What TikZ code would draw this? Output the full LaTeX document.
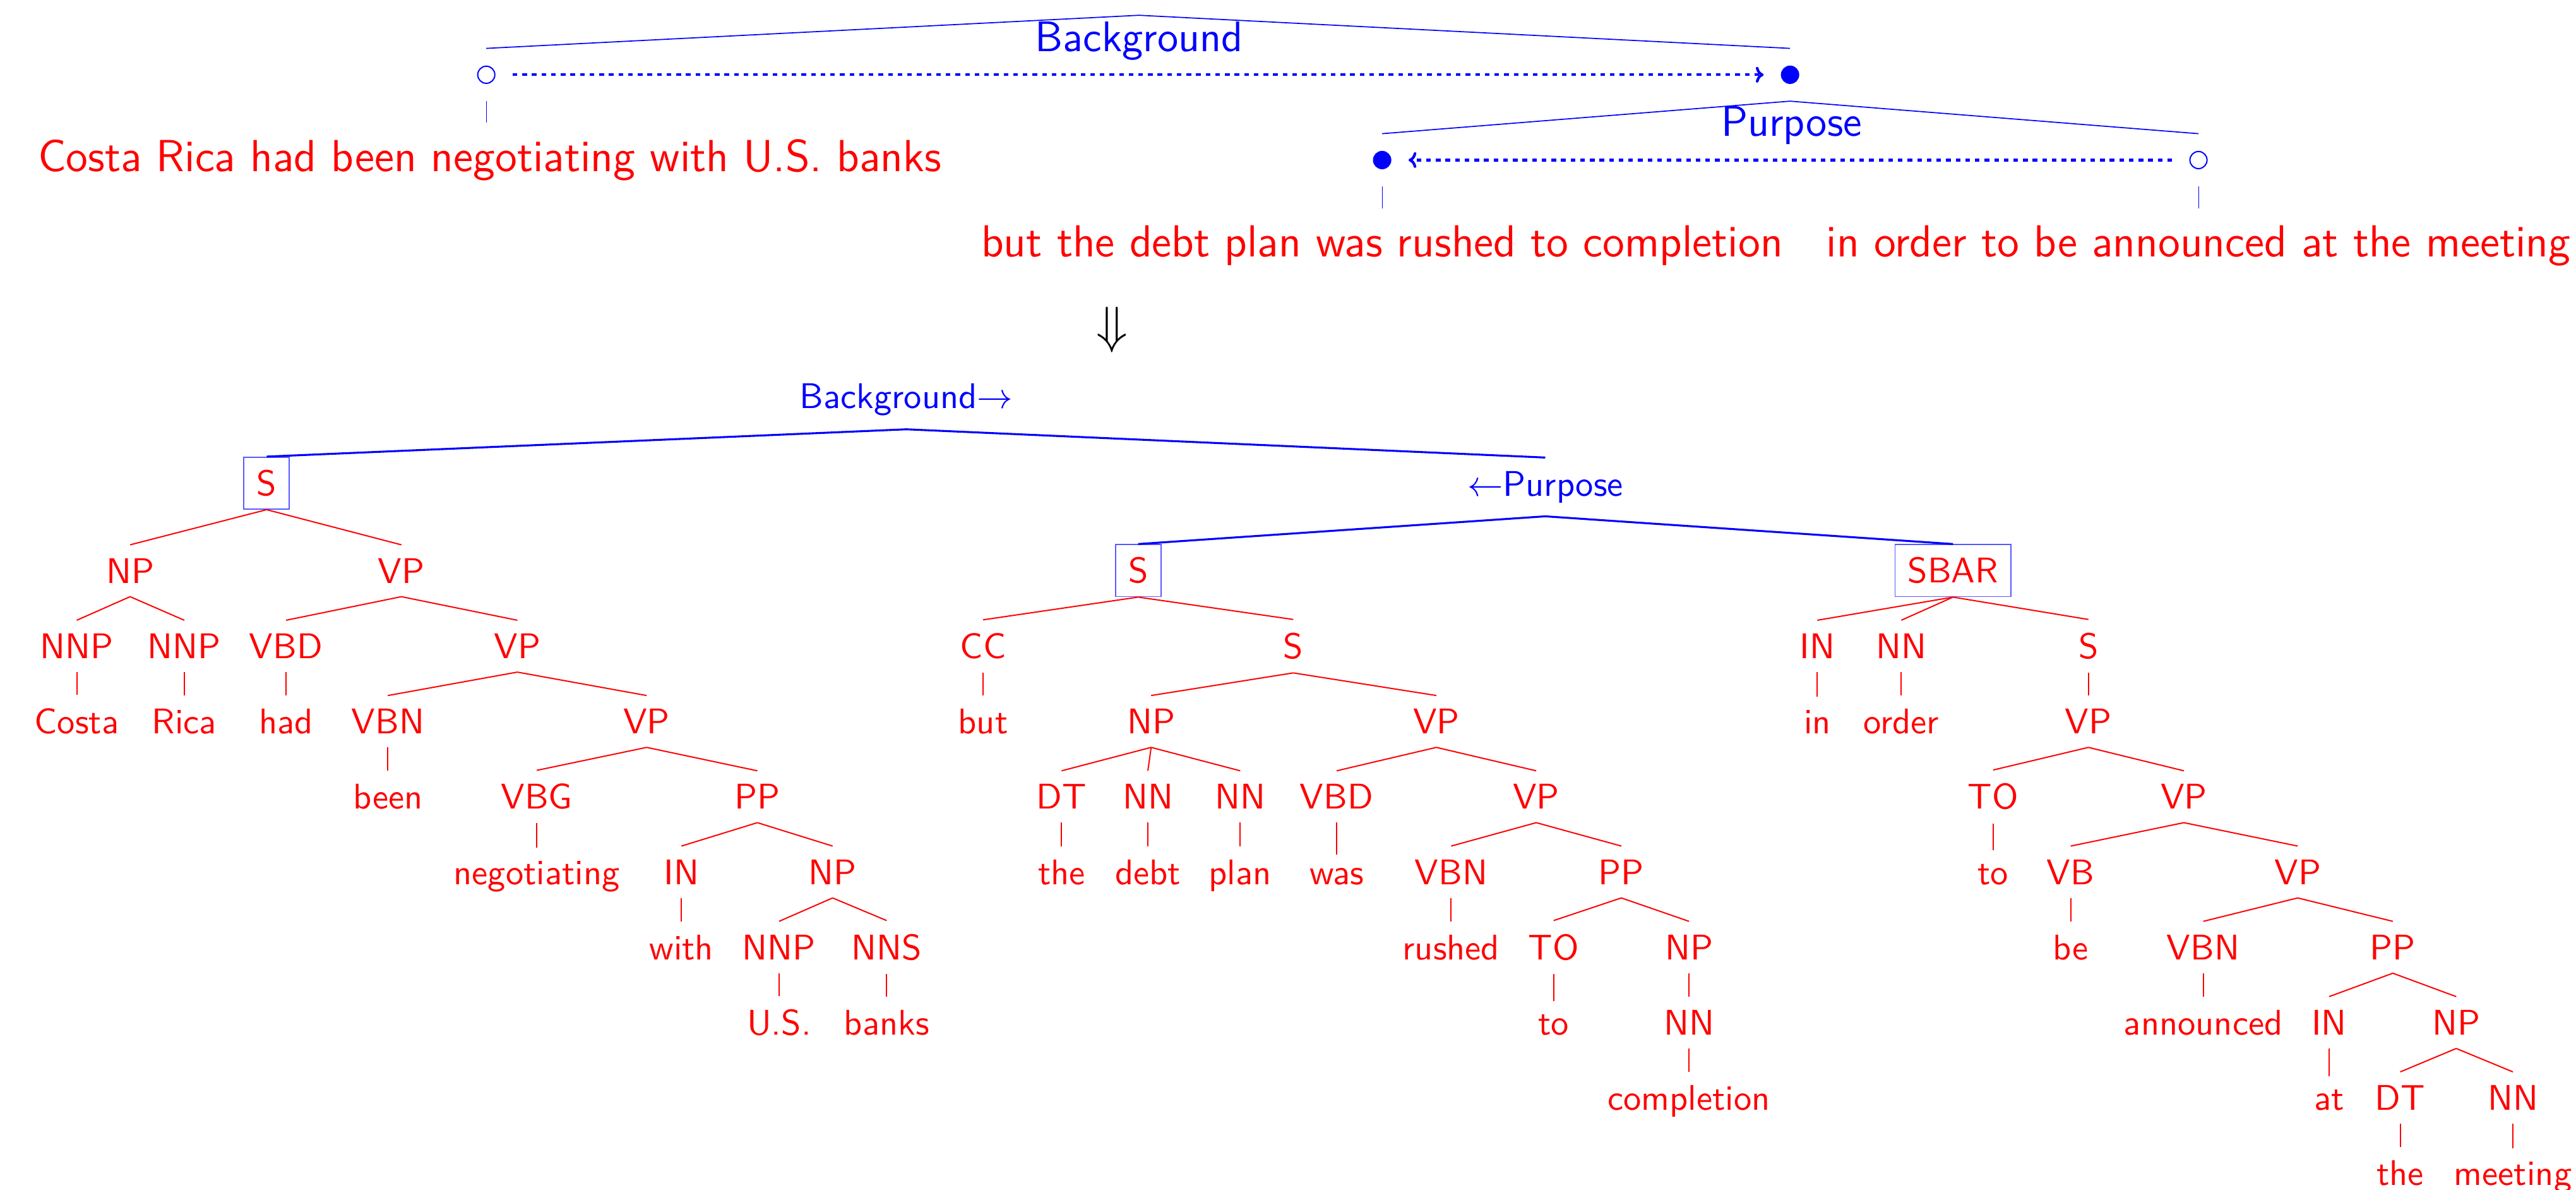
\documentclass[tikz,border=0pt]{standalone}
\usetikzlibrary{arrows.meta}
\tikzset{
  x=0.4608pt, y=-0.4608pt,
  tag/.style={anchor=base, text=red, font=\sffamily, inner sep=3.6pt},
  boxtag/.style={tag, draw=blue!65, line width=0.3pt},
  rel/.style={anchor=base, text=blue, font=\sffamily, inner sep=3.6pt},
  edge/.style={red, line width=0.35pt},
  reledge/.style={blue, line width=0.55pt},
  topdot/.style={circle, draw=blue, line width=0.35pt, minimum size=4.8pt, inner sep=0pt, outer sep=5pt},
  toplab/.style={anchor=base, text=blue, font=\sffamily\fontsize{12}{14}\selectfont, inner sep=0pt},
  toptext/.style={anchor=base, text=red, font=\sffamily\fontsize{12.6}{15}\selectfont, inner sep=4.6pt},
  toparch/.style={blue, line width=0.3pt},
  thinline/.style={blue, line width=0.2pt},
  dotarrow/.style={blue, line width=0.75pt, dash pattern=on 1.3pt off 1.4pt, -{To[length=2.2pt,width=4.4pt]}}
}
\begin{document}
\begin{tikzpicture}
\useasboundingbox (0,0) rectangle (1568,724);

% ---------- top: discourse structure ----------
\node[topdot, fill=white] (c1) at (296,45.5) {};
\node[topdot, fill=blue] (c2) at (1089.6,45.5) {};
\coordinate (bgtop) at (693.3,9.3);
\draw[toparch] (c1.north) -- (bgtop) -- (c2.north);
\node[toplab] (bg) at (693.3,31.4) {Background};
\draw[dotarrow] (c1) -- (c2);
\node[toptext] (t1) at (298,104.4) {Costa Rica had been negotiating with U.S. banks};
\draw[thinline] (c1.south) -- (c1.south |- t1.north);

\node[topdot, fill=blue] (c3) at (841.3,97.4) {};
\node[topdot, fill=white] (c4) at (1338.2,97.4) {};
\draw[toparch] (c3.north) -- (c2.south) -- (c4.north);
\node[toplab] (pp) at (1090.5,82.9) {Purpose};
\draw[dotarrow] (c4) -- (c3);
\node[toptext] (t2) at (841.3,156.3) {but the debt plan was rushed to completion};
\node[toptext] (t3) at (1338.2,156.3) {in order to be announced at the meeting};
\draw[thinline] (c3.south) -- (t2.north);
\draw[thinline] (c4.south) -- (t3.north);

\node (dn) at (676.9,200.8) {\fontsize{13.5}{16}\selectfont$\Downarrow$};

% ---------- bottom: relation labels ----------
\node[rel] (r1) at (551.7,248.5) {Background$\rightarrow$};
\node[rel] (r2) at (940.6,301.7) {$\leftarrow$Purpose};

% ---------- tree 1 ----------
\node[boxtag] (a) at (162.3,301.5) {S};
\node[tag] (a1) at (79.2,354.8) {NP};
\node[tag] (a2) at (244.3,354.8) {VP};
\node[tag] (a11) at (46.7,400.7) {NNP};
\node[tag] (a12) at (112.2,400.7) {NNP};
\node[tag] (a21) at (174.1,400.7) {VBD};
\node[tag] (a22) at (314.9,400.7) {VP};
\node[tag] (a111) at (46.7,446.5) {Costa};
\node[tag] (a121) at (112.2,446.5) {Rica};
\node[tag] (a211) at (174.1,446.5) {had};
\node[tag] (a221) at (236.1,446.5) {VBN};
\node[tag] (a222) at (393.6,446.5) {VP};
\node[tag] (a2211) at (236.1,492.3) {been};
\node[tag] (a2221) at (326.7,492.3) {VBG};
\node[tag] (a2222) at (461.0,492.3) {PP};
\node[tag] (a22211) at (326.7,538.1) {negotiating};
\node[tag] (a22221) at (414.8,538.1) {IN};
\node[tag] (a22222) at (506.8,538.1) {NP};
\node[tag] (w1) at (414.8,583.9) {with};
\node[tag] (b1) at (474.2,583.9) {NNP};
\node[tag] (b2) at (539.7,583.9) {NNS};
\node[tag] (w2) at (474.2,629.7) {U.S.};
\node[tag] (w3) at (539.7,629.7) {banks};

\foreach \p/\c in {a/a1,a/a2,a1/a11,a1/a12,a2/a21,a2/a22,a11/a111,a12/a121,a21/a211,
  a22/a221,a22/a222,a221/a2211,a222/a2221,a222/a2222,a2221/a22211,a2222/a22221,a2222/a22222,
  a22221/w1,a22222/b1,a22222/b2,b1/w2,b2/w3}
  \draw[edge] (\p.south) -- (\c.north);

% ---------- tree 2 ----------
\node[boxtag] (s) at (692.8,354.7) {S};
\node[tag] (s1) at (598.4,400.7) {CC};
\node[tag] (s2) at (787.2,400.7) {S};
\node[tag] (s11) at (598.4,446.5) {but};
\node[tag] (s21) at (700.7,446.5) {NP};
\node[tag] (s22) at (874.3,446.5) {VP};
\node[tag] (s211) at (646.2,492.3) {DT};
\node[tag] (s212) at (698.7,492.3) {NN};
\node[tag] (s213) at (754.9,492.3) {NN};
\node[tag] (s221) at (813.6,492.3) {VBD};
\node[tag] (s222) at (935.1,492.3) {VP};
\node[tag] (s2111) at (646.2,538.1) {the};
\node[tag] (s2121) at (698.7,538.1) {debt};
\node[tag] (s2131) at (754.9,538.1) {plan};
\node[tag] (s2211) at (813.6,538.1) {was};
\node[tag] (s2221) at (883.3,538.1) {VBN};
\node[tag] (s2222) at (986.9,538.1) {PP};
\node[tag] (s22211) at (883.3,583.9) {rushed};
\node[tag] (s22221) at (945.7,583.9) {TO};
\node[tag] (s22222) at (1028.1,583.9) {NP};
\node[tag] (v1) at (945.7,629.7) {to};
\node[tag] (v2) at (1028.1,629.7) {NN};
\node[tag] (v3) at (1028.1,675.5) {completion};

\foreach \p/\c in {s/s1,s/s2,s1/s11,s2/s21,s2/s22,s21/s211,s21/s212,s21/s213,s22/s221,s22/s222,
  s211/s2111,s212/s2121,s213/s2131,s221/s2211,s222/s2221,s222/s2222,s2221/s22211,
  s2222/s22221,s2222/s22222,s22221/v1,s22222/v2,v2/v3}
  \draw[edge] (\p.south) -- (\c.north);

% ---------- tree 3 ----------
\node[boxtag] (q) at (1188.8,354.7) {SBAR};
\node[tag] (q1) at (1106.2,400.7) {IN};
\node[tag] (q2) at (1157.3,400.7) {NN};
\node[tag] (q3) at (1271.2,400.7) {S};
\node[tag] (q11) at (1106.2,446.5) {in};
\node[tag] (q21) at (1157.3,446.5) {order};
\node[tag] (q31) at (1271.2,446.5) {VP};
\node[tag] (q311) at (1213.2,492.3) {TO};
\node[tag] (q312) at (1329.3,492.3) {VP};
\node[tag] (q3111) at (1213.2,538.1) {to};
\node[tag] (q3121) at (1260.4,538.1) {VB};
\node[tag] (q3122) at (1398.6,538.1) {VP};
\node[tag] (q31211) at (1260.4,583.9) {be};
\node[tag] (q31221) at (1341.1,583.9) {VBN};
\node[tag] (q31222) at (1456.5,583.9) {PP};
\node[tag] (u1) at (1341.1,629.7) {announced};
\node[tag] (u2) at (1417.7,629.7) {IN};
\node[tag] (u3) at (1495.1,629.7) {NP};
\node[tag] (u21) at (1417.7,675.5) {at};
\node[tag] (u31) at (1461.0,675.5) {DT};
\node[tag] (u32) at (1529.6,675.5) {NN};
\node[tag] (u311) at (1461.0,721.3) {the};
\node[tag] (u321) at (1529.6,721.3) {meeting};

\foreach \p/\c in {q/q1,q/q2,q/q3,q1/q11,q2/q21,q3/q31,q31/q311,q31/q312,q311/q3111,
  q312/q3121,q312/q3122,q3121/q31211,q3122/q31221,q3122/q31222,q31221/u1,q31222/u2,q31222/u3,
  u2/u21,u3/u31,u3/u32,u31/u311,u32/u321}
  \draw[edge] (\p.south) -- (\c.north);

% ---------- relation arches ----------
\draw[reledge] (a.north) -- (r1.south) -- (r2.north);
\draw[reledge] (s.north) -- (r2.south) -- (q.north);
\end{tikzpicture}
\end{document}
